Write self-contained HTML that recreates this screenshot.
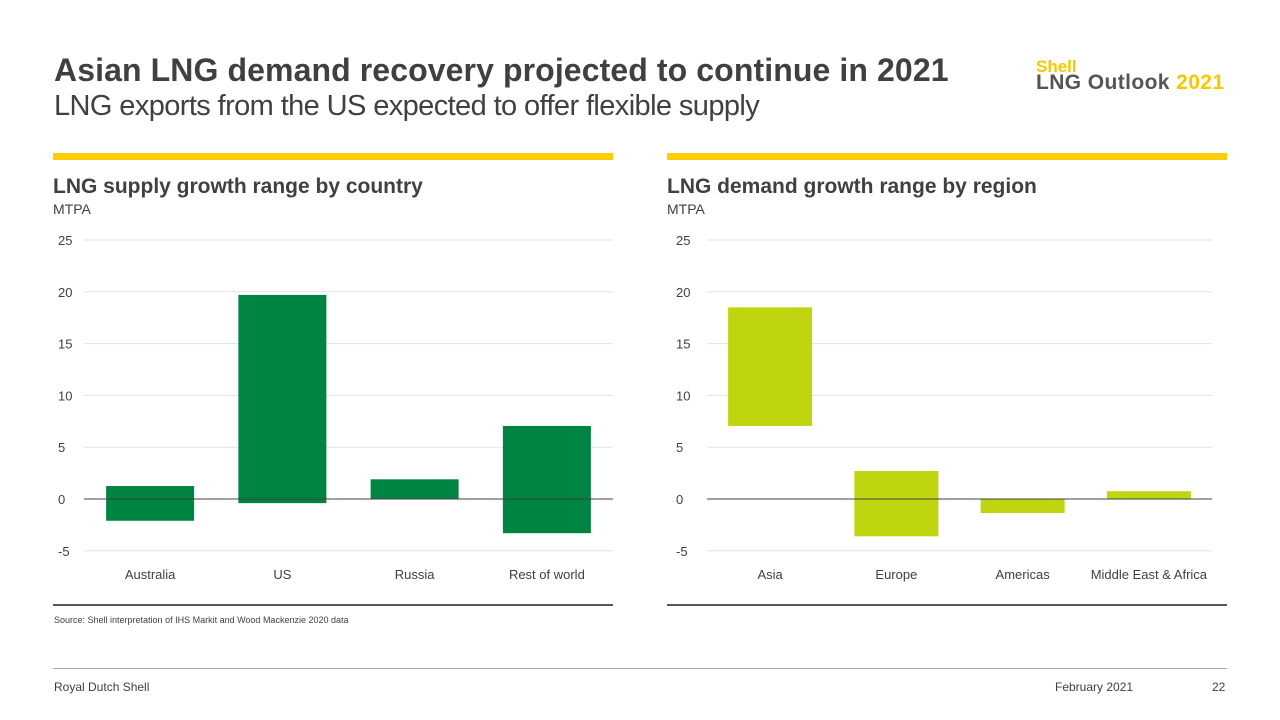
<!DOCTYPE html>
<html><head><meta charset="utf-8"><style>
body{margin:0;width:1280px;height:720px;background:#fff;font-family:"Liberation Sans",sans-serif;position:relative;overflow:hidden;color:#404040}
.a{position:absolute;white-space:nowrap}
</style></head><body>
<div class="a" style="left:54px;top:52px;font-size:32px;font-weight:bold;color:#404040;letter-spacing:0.1px">Asian LNG demand recovery projected to continue in 2021</div>
<div class="a" style="left:54px;top:90px;font-size:29px;color:#404040;letter-spacing:-0.6px">LNG exports from the US expected to offer flexible supply</div>
<div class="a" style="left:1036px;top:57px;font-size:17px;font-weight:bold;color:#f5c900">Shell</div>
<div class="a" style="left:1036px;top:71px;font-size:21px;font-weight:bold;color:#555;letter-spacing:0.4px">LNG Outlook <span style="color:#f5c900">2021</span></div>
<div class="a" style="left:53px;top:153px;width:560px;height:7px;background:#fbce07"></div>
<div class="a" style="left:667px;top:153px;width:560px;height:7px;background:#fbce07"></div>
<div class="a" style="left:53px;top:175px;font-size:21px;font-weight:bold">LNG supply growth range by country</div>
<div class="a" style="left:53px;top:201px;font-size:14px">MTPA</div>
<div class="a" style="left:667px;top:175px;font-size:21px;font-weight:bold">LNG demand growth range by region</div>
<div class="a" style="left:667px;top:201px;font-size:14px">MTPA</div>
<div class="a" style="left:53px;top:604px;width:560px;height:2px;background:#595959"></div>
<div class="a" style="left:667px;top:604px;width:560px;height:2px;background:#595959"></div>
<div class="a" style="left:54px;top:615px;font-size:9px">Source: Shell interpretation of IHS Markit and Wood Mackenzie 2020 data</div>
<div class="a" style="left:53px;top:668px;width:1174px;height:1px;background:#aaa"></div>
<div class="a" style="left:54px;top:680px;font-size:12px">Royal Dutch Shell</div>
<div class="a" style="left:1055px;top:680px;font-size:12px">February 2021</div>
<div class="a" style="left:1212px;top:680px;font-size:12px">22</div>
<svg id="chart" class="a" style="left:0;top:0" width="1280" height="720"></svg>
<script>
const ticks=[-5,0,5,10,15,20,25];
const supplyCats=["Australia","US","Russia","Rest of world"];
const supplyLow=[-2.1,-0.4,0,-3.3];
const supplyHigh=[1.25,19.7,1.9,7.05];
const demandCats=["Asia","Europe","Americas","Middle East & Africa"];
const demandLow=[7.05,-3.6,-1.35,0];
const demandHigh=[18.5,2.7,0,0.75];
const svg=document.getElementById('chart');
const NS='http://www.w3.org/2000/svg';
function y(v){return 499-v*10.36;}
function el(t,a,txt){const e=document.createElementNS(NS,t);for(const k in a)e.setAttribute(k,a[k]);if(txt!==undefined)e.textContent=txt;svg.appendChild(e);return e;}
function chart(x0,x1,labX,cats,lo,hi,color,bw,pre){
  const band=(x1-x0)/cats.length;
  ticks.forEach(t=>{
    const l=el('line',{x1:x0,x2:x1,y1:y(t),y2:y(t),stroke:t===0?'#404040':'#e3e3e3','stroke-width':1});
    
    
    const tx=el('text',{x:labX,y:y(t)+5,'font-size':13,fill:'#404040','font-family':'Liberation Sans'},String(t));
    
    
  });
  cats.forEach((c,i)=>{
    const cx=x0+band*(i+0.5);
    const r=el('rect',{x:cx-bw/2,y:y(hi[i]),width:bw,height:Math.max(1,y(lo[i])-y(hi[i])),fill:color});
    
    
    const t=el('text',{x:cx,y:579,'font-size':13,fill:'#404040','text-anchor':'middle','font-family':'Liberation Sans'},c);
    
    
  });
  el('line',{x1:x0,x2:x1,y1:y(0),y2:y(0),stroke:'#404040','stroke-width':1});
}
chart(84,613,58,supplyCats,supplyLow,supplyHigh,'#008443',88,'supply');
chart(707,1212,676,demandCats,demandLow,demandHigh,'#bed50f',84,'demand');
</script>
</body></html>
